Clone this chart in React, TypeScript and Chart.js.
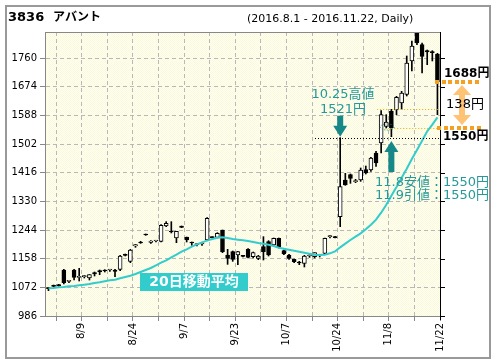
import React, { useEffect, useRef } from "react";
import { Chart, registerables } from "chart.js";
Chart.register(...registerables);

const TITLE_CODE = "3836";
const TITLE_NAME = "アバント";
const PERIOD = "(2016.8.1 - 2016.11.22, Daily)";
const MA_LABEL = "20日移動平均";

const DATES = ["8/1","8/2","8/3","8/4","8/5","8/8","8/9","8/10","8/12","8/15","8/16","8/17","8/18","8/19","8/22","8/23","8/24","8/25","8/26","8/29","8/30","8/31","9/1","9/2","9/5","9/6","9/7","9/8","9/9","9/12","9/13","9/14","9/15","9/16","9/20","9/21","9/23","9/26","9/27","9/28","9/29","9/30","10/3","10/4","10/5","10/6","10/7","10/11","10/12","10/13","10/14","10/17","10/18","10/19","10/20","10/21","10/24","10/25","10/26","10/27","10/28","10/31","11/1","11/2","11/4","11/7","11/8","11/9","11/10","11/11","11/14","11/15","11/16","11/17","11/18","11/21","11/22"];

const OPEN = [1070,1078,1080,1124,1090,1124,1102,1104,1100,1116,1122,1124,1124,1124,1126,1170,1150,1196,1208,1232,1207,1211,1210,1256,1240,1220,1256,1222,1206,1200,1202,1214,1224,1222,1244,1169,1179,1169,1167,1186,1164,1159,1194,1209,1199,1219,1182,1169,1156,1146,1144,1166,1164,1169,1174,1224,1224,1284,1394,1410,1389,1394,1425,1424,1475,1505,1555,1600,1604,1625,1651,1751,1840,1800,1782,1778,1772];
const HIGH = [1072,1079,1081,1126,1092,1126,1129,1108,1110,1118,1124,1125,1126,1126,1168,1172,1186,1200,1210,1232,1212,1212,1260,1269,1269,1240,1256,1223,1208,1203,1205,1281,1224,1236,1244,1186,1181,1180,1168,1188,1178,1168,1224,1212,1220,1220,1184,1171,1157,1150,1168,1170,1176,1171,1220,1228,1225,1521,1414,1412,1396,1430,1436,1462,1480,1602,1590,1606,1645,1660,1766,1811,1850,1805,1784,1782,1774];
const LOW = [1062,1074,1075,1082,1086,1094,1091,1100,1094,1106,1110,1118,1120,1104,1122,1166,1146,1192,1204,1228,1204,1208,1208,1254,1235,1206,1251,1208,1198,1196,1198,1212,1220,1220,1176,1141,1150,1140,1163,1160,1160,1155,1154,1166,1196,1190,1170,1156,1146,1140,1133,1162,1160,1163,1172,1220,1220,1254,1378,1384,1386,1390,1412,1420,1435,1475,1550,1524,1590,1606,1646,1721,1800,1715,1740,1751,1590];
const CLOSE = [1068,1075,1076,1086,1090,1102,1104,1104,1110,1112,1118,1121,1124,1120,1166,1168,1184,1200,1205,1229,1211,1211,1258,1264,1238,1240,1252,1214,1205,1200,1202,1279,1221,1234,1179,1159,1156,1179,1165,1162,1176,1166,1179,1169,1219,1194,1172,1159,1149,1145,1166,1166,1176,1169,1219,1224,1221,1374,1379,1399,1389,1424,1415,1460,1445,1590,1568,1550,1642,1655,1745,1796,1805,1765,1778,1776,1688];
const MA20 = [1069,1070,1072,1073,1075,1076,1078,1080,1082,1085,1087,1090,1093,1095,1099,1103,1107,1112,1118,1124,1130,1138,1146,1153,1162,1170,1179,1186,1194,1201,1207,1212,1217,1221,1222,1220,1217,1215,1213,1211,1208,1205,1203,1200,1196,1191,1188,1185,1182,1179,1176,1173,1170,1169,1170,1174,1180,1192,1203,1214,1224,1234,1246,1260,1275,1296,1320,1347,1373,1401,1428,1457,1484,1512,1540,1560,1582];

const Y_TICKS = [986,1072,1158,1244,1330,1416,1502,1588,1674,1760];
const X_TICK_LABELS = ["8/9","8/24","9/7","9/23","10/7","10/24","11/8","11/22"];

const HIGH_1025 = 1521;
const LOW_1108 = 1550;
const LAST_CLOSE = 1688;
const LEVEL_1110 = 1606;
const DIFF = 138;

const Y_MIN = 986;
const Y_MAX = 1838;
const X_MIN = -0.68;
const X_MAX = 76.5;
const TICK_SHIFT = 0.5;

const TEAL_TEXT = "#25999A";
const TEAL_ARROW = "#178888";
const ORANGE = "#F5A023";

export default function App() {
  const ref = useRef<HTMLCanvasElement>(null);

  useEffect(() => {
    document.body.style.margin = "0";
    const canvas = ref.current!;
    const c2 = canvas.getContext("2d")!;
    const pc = document.createElement("canvas");
    pc.width = 2; pc.height = 2;
    const p = pc.getContext("2d")!;
    p.fillStyle = "#FFFFF2"; p.fillRect(0, 0, 2, 2);
    p.fillStyle = "#FAF9DC"; p.fillRect(0, 0, 1, 1); p.fillRect(1, 1, 1, 1);
    const pattern = c2.createPattern(pc, "repeat");

    const last = DATES.length - 1;
    const gridIdx: number[] = [];
    for (let i = 0; i < DATES.length; i++) if ((last - i) % 5 === 0) gridIdx.push(i);
    const idxOf = (d: string) => DATES.indexOf(d);

    const deco = {
      id: "deco",
      beforeDraw(chart: any) {
        const { ctx, chartArea: a } = chart;
        ctx.save();
        ctx.fillStyle = "#fff";
        ctx.fillRect(0, 0, chart.width, chart.height);
        ctx.fillStyle = pattern as any;
        ctx.fillRect(a.left, a.top, a.right - a.left, a.bottom - a.top);
        ctx.restore();
      },
      afterDraw(chart: any) {
        const { ctx, chartArea: a, scales } = chart;
        const x = scales.x, y = scales.y;
        const px = (v: number) => x.getPixelForValue(v);
        const py = (v: number) => y.getPixelForValue(v);
        ctx.save();
        // top border
        ctx.strokeStyle = "#888"; ctx.lineWidth = 1;
        ctx.beginPath(); ctx.moveTo(a.left, a.top + 0.5); ctx.lineTo(a.right, a.top + 0.5); ctx.stroke();
        // right axis
        ctx.strokeStyle = "#000";
        ctx.beginPath();
        ctx.moveTo(a.right + 0.5, a.top); ctx.lineTo(a.right + 0.5, a.bottom + 4);
        Y_TICKS.forEach((v) => {
          const yy = Math.round(py(v)) + 0.5;
          ctx.moveTo(a.right, yy); ctx.lineTo(a.right + 5, yy);
        });
        ctx.stroke();
        // outer frame
        ctx.strokeStyle = "#999"; ctx.lineWidth = 2;
        ctx.strokeRect(6, 6, 484, 352);
        // title
        ctx.fillStyle = "#000"; ctx.textAlign = "left"; ctx.textBaseline = "alphabetic";
        ctx.font = "bold 13px 'DejaVu Sans'";
        ctx.fillText(TITLE_CODE, 8, 21);
        ctx.font = "bold 12px 'Noto Sans CJK JP'";
        ctx.fillText(TITLE_NAME, 53, 21);
        ctx.font = "11px 'DejaVu Sans'";
        ctx.fillText(PERIOD, 247, 22);

        // MA label box
        ctx.fillStyle = "#33CCCC";
        ctx.fillRect(140, 273, 108, 18);
        ctx.fillStyle = "#fff"; ctx.textAlign = "center"; ctx.textBaseline = "middle";
        ctx.font = "bold 14px 'DejaVu Sans', 'Noto Sans CJK JP'";
        ctx.fillText(MA_LABEL, 194, 282);

        // black dotted line at 10/25 high
        const yH = Math.round(py(HIGH_1025)) + 0.5;
        ctx.strokeStyle = "#000"; ctx.lineWidth = 1; ctx.setLineDash([1, 2]);
        ctx.beginPath(); ctx.moveTo(315, yH); ctx.lineTo(a.right, yH); ctx.stroke();
        // yellow dotted lines
        ctx.strokeStyle = "#E0B000";
        const yL = Math.round(py(LOW_1108)) + 0.5;
        const y16 = Math.round(py(LEVEL_1110)) + 0.5;
        ctx.beginPath(); ctx.moveTo(px(idxOf("11/7")) - 4, y16); ctx.lineTo(a.right, y16); ctx.stroke();
        ctx.beginPath(); ctx.moveTo(px(idxOf("11/8")) - 1, yL); ctx.lineTo(a.right, yL); ctx.stroke();
        ctx.setLineDash([]);

        // dotted ellipse around 11/8 low
        ctx.strokeStyle = TEAL_ARROW; ctx.setLineDash([1, 1.5]);
        ctx.beginPath();
        ctx.ellipse(px(idxOf("11/8")) + 1, py(LOW_1108) - 1, 7, 3, 0, 0, Math.PI * 2);
        ctx.stroke();
        ctx.setLineDash([]);

        // down arrow at 10/25 high
        const ax = px(idxOf("10/25"));
        const tip = py(HIGH_1025) - 1;
        ctx.fillStyle = TEAL_ARROW;
        ctx.fillRect(ax - 3, tip - 21, 6, 11);
        ctx.beginPath(); ctx.moveTo(ax - 7, tip - 11); ctx.lineTo(ax + 7, tip - 11); ctx.lineTo(ax, tip); ctx.closePath(); ctx.fill();
        // up arrow under 11/9
        const bx = px(idxOf("11/9"));
        const tip2 = 141;
        ctx.beginPath(); ctx.moveTo(bx - 7, tip2 + 11); ctx.lineTo(bx + 7, tip2 + 11); ctx.lineTo(bx, tip2); ctx.closePath(); ctx.fill();
        ctx.fillRect(bx - 3, tip2 + 11, 6, 20);

        // teal texts
        ctx.fillStyle = TEAL_TEXT; ctx.textBaseline = "alphabetic";
        ctx.font = "13px 'DejaVu Sans', 'Noto Sans CJK JP'";
        ctx.textAlign = "center";
        ctx.fillText("10.25高値", 343, 98);
        ctx.fillText(HIGH_1025 + "円", 343, 113);
        ctx.textAlign = "right";
        ctx.fillText("11.8安値：" + LOW_1108 + "円", 489, 186);
        ctx.fillText("11.9引値：" + LOW_1108 + "円", 489, 199);

        // orange dotted lines
        ctx.fillStyle = ORANGE;
        const yC = Math.round(py(LAST_CLOSE));
        const yB = Math.round(py(LOW_1108));
        for (let xx = 435; xx <= 478; xx += 6.6) ctx.fillRect(Math.round(xx), yC - 2, 4, 4);
        for (let xx = 437; xx <= 480; xx += 6.6) ctx.fillRect(Math.round(xx), yB - 2, 4, 4);

        // double arrow
        const cx = 462;
        const t = yC + 3, b = yB - 3;
        ctx.fillStyle = "rgba(255,170,60,0.7)";
        ctx.beginPath();
        ctx.moveTo(cx, t);
        ctx.lineTo(cx + 9, t + 10); ctx.lineTo(cx + 3, t + 10);
        ctx.lineTo(cx + 3, b - 10); ctx.lineTo(cx + 9, b - 10);
        ctx.lineTo(cx, b);
        ctx.lineTo(cx - 9, b - 10); ctx.lineTo(cx - 3, b - 10);
        ctx.lineTo(cx - 3, t + 10); ctx.lineTo(cx - 9, t + 10);
        ctx.closePath(); ctx.fill();

        // black labels
        ctx.fillStyle = "#000"; ctx.textAlign = "left";
        ctx.font = "bold 12px 'DejaVu Sans', 'Noto Sans CJK JP'";
        ctx.fillText(LAST_CLOSE + "円", 444, 77);
        ctx.fillText(LOW_1108 + "円", 443, 140);
        ctx.font = "13px 'DejaVu Sans', 'Noto Sans CJK JP'";
        ctx.textAlign = "center";
        ctx.fillText(DIFF + "円", 465, 108);
        ctx.restore();
      },
    };

    const font = { family: "'DejaVu Sans'", size: 10 };
    const chart = new Chart(canvas, {
      type: "bar",
      data: {
        datasets: [
          {
            type: "line",
            label: "MA20",
            data: MA20.map((v, i) => ({ x: i, y: v })),
            borderColor: "#33CCCC",
            borderWidth: 2,
            pointRadius: 0,
            tension: 0,
            order: 0,
          } as any,
          {
            type: "bar",
            label: "body",
            data: OPEN.map((o, i) => ({ x: i, y: [o, CLOSE[i]] })),
            backgroundColor: (c: any) => (CLOSE[c.dataIndex] >= OPEN[c.dataIndex] ? "#ffffff" : "#000000"),
            borderColor: "#000",
            borderWidth: 1,
            borderSkipped: false,
            barThickness: 4,
            maxBarThickness: 4,
            minBarLength: 1,
            grouped: false,
            order: 1,
          } as any,
          {
            type: "bar",
            label: "wick",
            data: LOW.map((l, i) => ({ x: i, y: [l, HIGH[i]] })),
            backgroundColor: "#000",
            borderWidth: 0,
            barThickness: 1,
            maxBarThickness: 1,
            grouped: false,
            order: 2,
          } as any,
        ],
      },
      options: {
        animation: false,
        responsive: false,
        devicePixelRatio: 1,
        events: [],
        layout: { padding: { top: 32, right: 56, left: 0, bottom: 0 } },
        plugins: { legend: { display: false }, tooltip: { enabled: false }, title: { display: false } },
        scales: {
          x: {
            type: "linear",
            min: X_MIN,
            max: X_MAX,
            offset: false,
            afterFit: (s: any) => { s.height = 48; },
            afterBuildTicks: (s: any) => { s.ticks = gridIdx.map((i) => ({ value: i + TICK_SHIFT })); },
            ticks: {
              autoSkip: false,
              minRotation: 90,
              maxRotation: 90,
              padding: 2,
              color: "#000",
              font,
              callback: (v: any) => {
                const d = DATES[Math.round(Number(v) - TICK_SHIFT)];
                return X_TICK_LABELS.includes(d) ? d : "";
              },
            },
            grid: { color: "#b8b8b8", tickColor: "#888", tickLength: 5, offset: false },
            border: { color: "#888", dash: [4, 3] },
          },
          y: {
            type: "linear",
            min: Y_MIN,
            max: Y_MAX,
            afterFit: (s: any) => { s.width = 45; },
            afterBuildTicks: (s: any) => { s.ticks = Y_TICKS.map((v) => ({ value: v })); },
            ticks: { padding: 3, color: "#000", font, callback: (v: any) => String(v) },
            grid: { color: "#b8b8b8", tickColor: "#888", tickLength: 5 },
            border: { color: "#888", dash: [4, 3] },
          },
        },
      } as any,
      plugins: [deco],
    });
    return () => chart.destroy();
  }, []);

  return <canvas ref={ref} width={496} height={364} style={{ display: "block", width: 496, height: 364 }} />;
}
